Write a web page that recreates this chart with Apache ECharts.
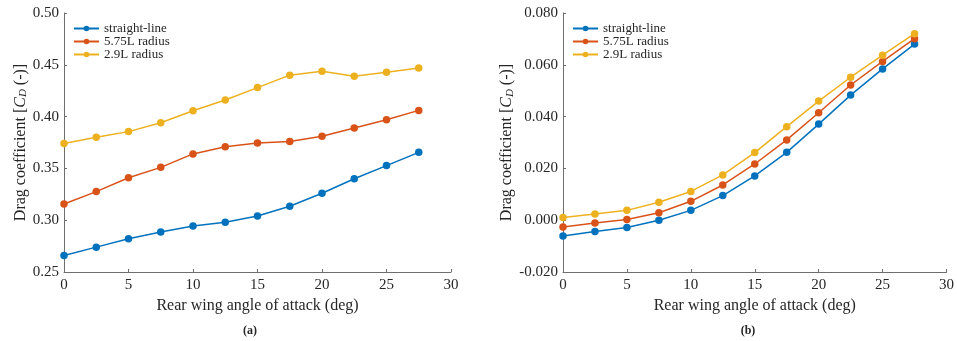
<!DOCTYPE html>
<html>
<head>
<meta charset="utf-8">
<script src="https://cdn.jsdelivr.net/npm/echarts@6/dist/echarts.min.js"></script>
<style>html,body{margin:0;padding:0;background:#fff}#c{width:957px;height:341px}</style>
</head>
<body>
<div id="c"></div>
<script>
const angles = [0, 2.5, 5, 7.5, 10, 12.5, 15, 17.5, 20, 22.5, 25, 27.5];
const seriesNames = ['straight-line', '5.75L radius', '2.9L radius'];
// (a)
const a_straight = [0.266, 0.274, 0.282, 0.2886, 0.2944, 0.298, 0.304, 0.3134, 0.326, 0.340, 0.3527, 0.3655];
const a_r575 = [0.3156, 0.3276, 0.341, 0.351, 0.364, 0.371, 0.3745, 0.376, 0.381, 0.389, 0.397, 0.406];
const a_r29 = [0.374, 0.380, 0.3855, 0.394, 0.4057, 0.416, 0.428, 0.440, 0.4437, 0.439, 0.4427, 0.447];
// (b)
const b_straight = [-0.0061, -0.0044, -0.0028, 0.0000, 0.0038, 0.0095, 0.0171, 0.0262, 0.0371, 0.0483, 0.0584, 0.0680];
const b_r575 = [-0.0026, -0.0011, 0.0003, 0.0029, 0.0073, 0.0136, 0.0217, 0.0310, 0.0415, 0.0522, 0.0613, 0.0701];
const b_r29 = [0.0010, 0.0024, 0.0038, 0.0069, 0.0111, 0.0175, 0.0261, 0.0361, 0.0460, 0.0552, 0.0637, 0.0720];
const xTicks = [0, 5, 10, 15, 20, 25, 30];
const captions = ['(a)', '(b)'];

const colors = ['#0072BD', '#D95319', '#EDB120'];
const FONT = 'Liberation Serif';
const txt = '#262626';
const axisCol = '#6e6e6e';

function zip(ys) { return angles.map((x, i) => [x, ys[i]]); }

function xAxis(gi) {
  return {
    gridIndex: gi, type: 'value', min: xTicks[0], max: xTicks[xTicks.length - 1], interval: 5,
    name: 'Rear wing angle of attack (deg)', nameLocation: 'middle', nameGap: 23,
    nameTextStyle: { fontFamily: FONT, fontSize: 16, color: txt, verticalAlign: 'top' },
    axisLine: { show: true, onZero: false, lineStyle: { color: axisCol, width: 1 } },
    axisTick: { show: true, inside: true, length: 3, lineStyle: { color: axisCol } },
    axisLabel: { fontFamily: FONT, fontSize: 15, color: txt, margin: 6 },
    splitLine: { show: false }
  };
}
function yAxis(gi, min, max, interval, dec, gap) {
  return {
    gridIndex: gi, type: 'value', min: min, max: max, interval: interval,
    name: 'Drag coefficient [{i|C}{s|D} (-)]', nameLocation: 'middle', nameGap: gap,
    nameTextStyle: {
      fontFamily: FONT, fontSize: 16, color: txt,
      rich: {
        i: { fontFamily: FONT, fontSize: 16, fontStyle: 'italic', color: txt },
        s: { fontFamily: FONT, fontSize: 11, fontStyle: 'italic', color: txt, padding: [6, 0, 0, 0] }
      }
    },
    axisLine: { show: true, onZero: false, lineStyle: { color: axisCol, width: 1 } },
    axisTick: { show: true, inside: true, length: 3, lineStyle: { color: axisCol } },
    axisLabel: { fontFamily: FONT, fontSize: 15, color: txt, margin: 5, formatter: v => v.toFixed(dec) },
    splitLine: { show: false }
  };
}
function ser(name, data, ci, gi) {
  return {
    name: name, type: 'line', xAxisIndex: gi, yAxisIndex: gi, data: zip(data),
    symbol: 'circle', symbolSize: 7.5, showSymbol: true,
    itemStyle: { color: colors[ci] }, lineStyle: { color: colors[ci], width: 1.5 },
    animation: false
  };
}

const chart = echarts.init(document.getElementById('c'), null, { renderer: 'canvas' });
const legendCommon = {
  orient: 'vertical', itemWidth: 25, itemHeight: 7, itemGap: 0,
  textStyle: { fontFamily: FONT, fontSize: 13, color: txt, lineHeight: 12 },
  data: seriesNames, selectedMode: false
};
chart.setOption({
  animation: false,
  color: colors,
  grid: [
    { left: 64, top: 13, width: 387, height: 259 },
    { left: 563, top: 13, width: 387, height: 259 }
  ],
  xAxis: [xAxis(0), xAxis(1)],
  yAxis: [yAxis(0, 0.25, 0.5, 0.05, 2, 33), yAxis(1, -0.02, 0.08, 0.02, 3, 47)],
  legend: [
    Object.assign({ left: 68, top: 17 }, legendCommon),
    Object.assign({ left: 567, top: 17 }, legendCommon)
  ],
  series: [
    ser(seriesNames[0], a_straight, 0, 0),
    ser(seriesNames[1], a_r575, 1, 0),
    ser(seriesNames[2], a_r29, 2, 0),
    ser(seriesNames[0], b_straight, 0, 1),
    ser(seriesNames[1], b_r575, 1, 1),
    ser(seriesNames[2], b_r29, 2, 1)
  ],
  graphic: [
    { type: 'text', x: 250, y: 331, style: { text: captions[0], fontFamily: FONT, fontSize: 12, fontWeight: 'bold', fill: txt, textAlign: 'center', textVerticalAlign: 'middle' } },
    { type: 'text', x: 748, y: 331, style: { text: captions[1], fontFamily: FONT, fontSize: 12, fontWeight: 'bold', fill: txt, textAlign: 'center', textVerticalAlign: 'middle' } }
  ]
});
</script>
</body>
</html>
